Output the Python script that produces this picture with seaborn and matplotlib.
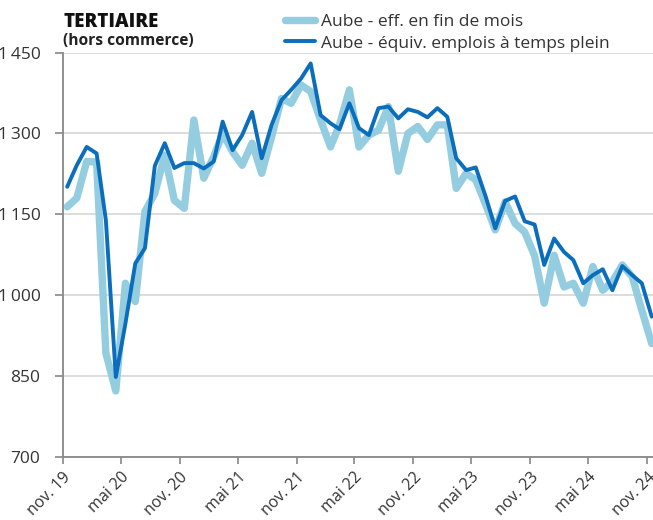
import pandas as pd
import matplotlib
matplotlib.use("Agg")
import matplotlib.pyplot as plt
import matplotlib.dates as mdates
from matplotlib.ticker import FixedLocator
import seaborn as sns

# monthly points, nov. 19 -> nov. 24
months = pd.date_range("2019-11-01", "2024-11-01", freq="MS") + pd.Timedelta(days=14)

eff_fin_mois = [1164, 1180, 1248, 1247, 892, 822, 1022, 988, 1155, 1189,
                1260, 1176, 1161, 1325, 1217, 1257, 1300, 1266, 1241, 1282,
                1226, 1294, 1365, 1356, 1390, 1378, 1325, 1275, 1316, 1381,
                1275, 1297, 1306, 1350, 1230, 1300, 1313, 1289, 1316, 1316,
                1198, 1226, 1214, 1168, 1121, 1173, 1133, 1117, 1073, 985,
                1074, 1015, 1022, 985, 1053, 1009, 1025, 1056, 1034, 972,
                910]

equiv_etp = [1201, 1241, 1275, 1263, 1139, 848, 947, 1059, 1087, 1240,
             1282, 1236, 1245, 1245, 1235, 1248, 1322, 1269, 1297, 1340,
             1254, 1316, 1362, 1381, 1402, 1430, 1334, 1319, 1308, 1356,
             1310, 1297, 1347, 1350, 1328, 1345, 1340, 1330, 1347, 1331,
             1254, 1232, 1237, 1183, 1124, 1175, 1183, 1137, 1131, 1056,
             1105, 1080, 1065, 1022, 1037, 1048, 1009, 1054, 1037, 1022,
             960]

series_names = ["Aube - eff. en fin de mois", "Aube - équiv. emplois à temps plein"]
tick_dates = pd.date_range("2019-11-01", "2024-11-01", freq="6MS")
tick_labels = ["nov. 19", "mai 20", "nov. 20", "mai 21", "nov. 21", "mai 22",
               "nov. 22", "mai 23", "nov. 23", "mai 24", "nov. 24"]
y_ticks = [700, 850, 1000, 1150, 1300, 1450]
y_labels = ["700", "850", "1\u2009000", "1\u2009150", "1\u2009300", "1\u2009450"]

df = pd.DataFrame({"mois": months, "eff": eff_fin_mois, "etp": equiv_etp})

sns.set_theme(style="white")
plt.rcParams["font.family"] = ["Open Sans", "DejaVu Sans"]

light = "#95cde0"
dark = "#0a6ebd"
grey_txt = "#333333"

fig, ax = plt.subplots(figsize=(6.53, 5.2), dpi=100)
fig.subplots_adjust(left=0.096, right=1.0, top=0.8987, bottom=0.1217)

sns.lineplot(data=df, x="mois", y="eff", color=light, linewidth=5.3,
             solid_joinstyle="round", solid_capstyle="round",
             label=series_names[0], ax=ax)
sns.lineplot(data=df, x="mois", y="etp", color=dark, linewidth=2.8,
             solid_joinstyle="round", solid_capstyle="round",
             label=series_names[1], ax=ax)

ax.set_xlim(pd.Timestamp("2019-11-01"), pd.Timestamp("2024-11-19"))
ax.set_ylim(700, 1450)
ax.set_xlabel("")
ax.set_ylabel("")

ax.set_xticks(tick_dates)
ax.set_xticklabels(tick_labels, rotation=45, ha="right", va="top",
                   rotation_mode="anchor", fontsize=11.5, color=grey_txt)
ax.xaxis.set_minor_locator(FixedLocator(mdates.date2num(tick_dates[::2])))
ax.set_yticks(y_ticks)
ax.set_yticklabels(y_labels, fontsize=12.5, color=grey_txt)

ax.grid(axis="y", color="#dadada", linewidth=1.3)
ax.grid(axis="x", which="minor", color="#dadada", linewidth=1.3)
ax.grid(axis="x", which="major", visible=False)
ax.tick_params(axis="x", which="major", length=5, width=1.2, color="#888888",
               direction="out", bottom=True, pad=4)
ax.tick_params(axis="x", which="minor", length=0)
ax.tick_params(axis="y", length=6, width=1.2, color="#888888",
               direction="out", left=True, pad=10)

sns.despine(ax=ax, top=True, right=True)
for side in ["left", "bottom"]:
    ax.spines[side].set_color("#888888")
    ax.spines[side].set_linewidth(1.3)

ax.legend(loc="upper left", bbox_to_anchor=(285 / 653, 1 - 14 / 520),
          bbox_transform=fig.transFigure, frameon=False, fontsize=12.5,
          handlelength=1.7, handletextpad=0.35, labelspacing=0.3,
          borderpad=0, borderaxespad=0, labelcolor=grey_txt)

fig.text(63 / 653, 1 - 27 / 520, "TERTIAIRE", fontsize=13.5,
         fontweight=800, color="#111111", va="baseline")
fig.text(63 / 653, 1 - 45 / 520, "(hors commerce)", fontsize=11.2,
         fontweight="bold", color="#222222", va="baseline")

fig.savefig("out.png", dpi=100)
